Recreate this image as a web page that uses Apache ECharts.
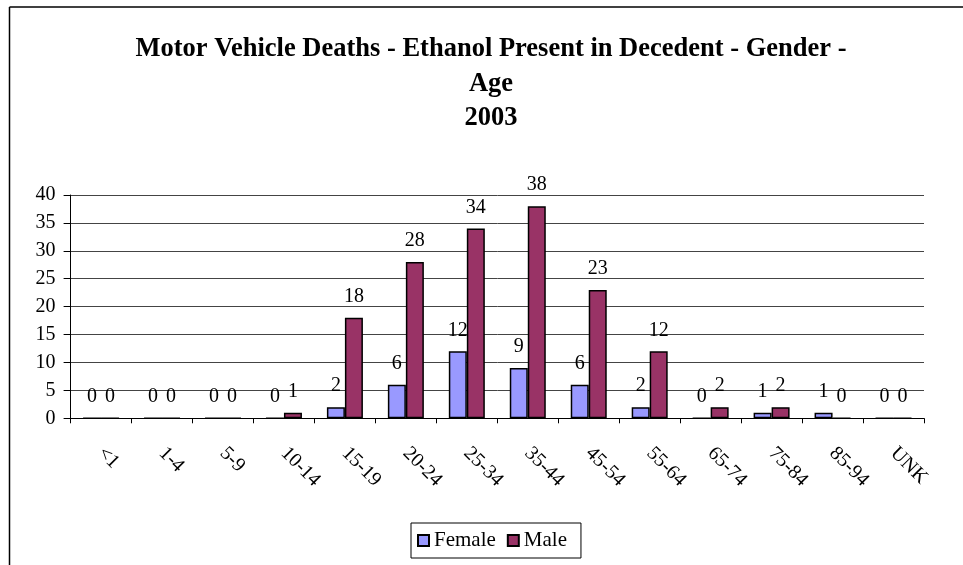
<!DOCTYPE html>
<html>
<head>
<meta charset="utf-8">
<script src="https://cdn.jsdelivr.net/npm/echarts@6/dist/echarts.min.js"></script>
<style>html,body{margin:0;padding:0;background:#fff}#c{width:963px;height:565px}</style>
</head>
<body>
<div id="c"></div>
<script>
const categories = ['<1','1-4','5-9','10-14','15-19','20-24','25-34','35-44','45-54','55-64','65-74','75-84','85-94','UNK'];
const female = [0,0,0,0,2,6,12,9,6,2,0,1,1,0];
const male = [0,0,0,1,18,28,34,38,23,12,2,2,0,0];
const yTicks = {min:0, max:40, interval:5};
const titleLines = ['Motor Vehicle Deaths - Ethanol Present in Decedent - Gender -','Age','2003'];

const FONT = '"Liberation Serif","Times New Roman",serif';
const chart = echarts.init(document.getElementById('c'), null, {renderer:'canvas'});
const labelCfg = {show:true, position:'top', distance:11, color:'#000', fontFamily:FONT, fontSize:20};
chart.setOption({
  backgroundColor:'#fff',
  animation:false,
  title:{text:titleLines.join('\n'), left:486, textAlign:'center', top:27,
    textStyle:{fontFamily:FONT, fontWeight:'bold', fontSize:26.5, lineHeight:34.5, color:'#000'}},
  graphic:[
    {type:'line', shape:{x1:9.5,y1:7,x2:963,y2:7}, style:{stroke:'#000', lineWidth:1.5}},
    {type:'line', shape:{x1:9.5,y1:7,x2:9.5,y2:565}, style:{stroke:'#000', lineWidth:1.5}}
  ],
  legend:{left:411, top:523, padding:[7,14,7,6], itemGap:11,
    borderColor:'#000', borderWidth:1,
    itemWidth:11, itemHeight:11, icon:'rect',
    textStyle:{fontFamily:FONT, fontSize:21, color:'#000'},
    data:['Female','Male']},
  grid:{left:70.6, right:39, top:195, bottom:146.7, containLabel:false},
  xAxis:{type:'category', data:categories,
    axisLine:{lineStyle:{color:'#000', width:1}},
    axisTick:{show:true, length:5, lineStyle:{color:'#000'}},
    axisLabel:{interval:0, rotate:-45, margin:32, color:'#000', fontFamily:FONT, fontSize:20}},
  yAxis:{type:'value', min:yTicks.min, max:yTicks.max, interval:yTicks.interval,
    axisLine:{show:true, lineStyle:{color:'#000'}},
    axisTick:{show:true, length:7, lineStyle:{color:'#000'}},
    axisLabel:{margin:15, color:'#000', fontFamily:FONT, fontSize:20},
    splitLine:{lineStyle:{color:'#444', width:1}}},
  series:[
    {name:'Female', type:'bar', data:female, barWidth:18, barGap:'0%',
      itemStyle:{color:'#9999FF', borderColor:'#000', borderWidth:1.5}, label:labelCfg},
    {name:'Male', type:'bar', data:male, barWidth:18,
      itemStyle:{color:'#993366', borderColor:'#000', borderWidth:1.5}, label:labelCfg}
  ]
});
</script>
</body>
</html>
